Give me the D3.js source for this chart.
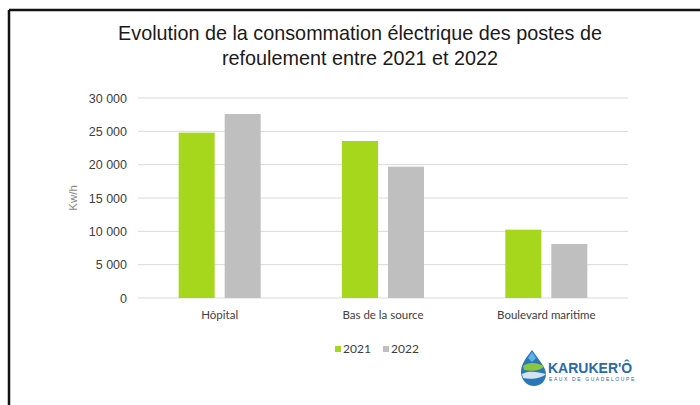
<!DOCTYPE html>
<html>
<head>
<meta charset="utf-8">
<script src="https://cdn.jsdelivr.net/npm/d3@7"></script>
<style>
  body { margin: 0; background: #fff; }
  svg { display: block; }
</style>
</head>
<body>
<svg width="700" height="405"></svg>
<script>
var categories = ["Hôpital", "Bas de la source", "Boulevard maritime"];
var years = ["2021", "2022"];
var values2021 = [24800, 23550, 10250];
var values2022 = [27600, 19700, 8100];
var yTicks = [0, 5000, 10000, 15000, 20000, 25000, 30000];
var titleLines = ["Evolution de la consommation électrique des postes de",
                  "refoulement entre 2021 et 2022"];
var colors = {"2021": "#a6d71c", "2022": "#bfbfbf"};

var svg = d3.select("svg");
var width = +svg.attr("width");
var height = +svg.attr("height");

// frame (only top and left edges show)
svg.append("line").attr("x1", 9).attr("y1", 10).attr("x2", width).attr("y2", 10)
   .attr("stroke", "#111").attr("stroke-width", 2.5);
svg.append("line").attr("x1", 9).attr("y1", 10).attr("x2", 9).attr("y2", height)
   .attr("stroke", "#111").attr("stroke-width", 2.5);

// title
svg.append("g").selectAll("text")
   .data(titleLines).enter().append("text")
   .attr("x", 360)
   .attr("y", function(d, i) { return 40 + i * 25; })
   .attr("text-anchor", "middle")
   .attr("font-family", "Liberation Sans, Arial, sans-serif")
   .attr("font-size", 19.8)
   .attr("fill", "#1a1a1a")
   .text(function(d) { return d; });

var x0 = d3.scaleBand().domain(categories).range([138, 628]);
var bw = x0.bandwidth();
var x1 = d3.scaleBand().domain(years)
   .range([bw / 2 - 41, bw / 2 + 41]).paddingInner(10 / 46);
var y = d3.scaleLinear().domain([0, 30000]).range([298, 98]);

var fmt = function(v) { return d3.format(",")(v).replace(/,/g, " "); };

// gridlines
svg.append("g").selectAll("line")
   .data(yTicks).enter().append("line")
   .attr("x1", 138).attr("x2", 628)
   .attr("y1", function(d) { return y(d); })
   .attr("y2", function(d) { return y(d); })
   .attr("stroke", "#d9d9d9").attr("stroke-width", 1);

// y axis
var yAxis = svg.append("g")
   .attr("transform", "translate(127,0)")
   .call(d3.axisLeft(y).tickValues(yTicks).tickFormat(fmt).tickSize(0).tickPadding(0));
yAxis.select(".domain").remove();
yAxis.selectAll("text")
   .attr("font-family", "Liberation Sans, Arial, sans-serif")
   .attr("font-size", 12.5)
   .attr("fill", "#404040");

svg.append("text")
   .attr("transform", "translate(77,198) rotate(-90)")
   .attr("text-anchor", "middle")
   .attr("font-family", "Liberation Sans, Arial, sans-serif")
   .attr("font-size", 11.5)
   .attr("fill", "#8a8a8a")
   .text("Kw/h");

// bars
var rows = categories.map(function(c, i) {
   return {cat: c, vals: [{year: "2021", v: values2021[i]}, {year: "2022", v: values2022[i]}]};
});
var groups = svg.append("g").selectAll("g")
   .data(rows).enter().append("g")
   .attr("transform", function(d) { return "translate(" + x0(d.cat) + ",0)"; });
groups.selectAll("rect")
   .data(function(d) { return d.vals; }).enter().append("rect")
   .attr("x", function(d) { return x1(d.year); })
   .attr("width", x1.bandwidth())
   .attr("y", function(d) { return y(d.v); })
   .attr("height", function(d) { return y(0) - y(d.v); })
   .attr("fill", function(d) { return colors[d.year]; });

// x axis labels
var xAxis = svg.append("g")
   .attr("transform", "translate(0,298)")
   .call(d3.axisBottom(x0).tickSize(0).tickPadding(13));
xAxis.select(".domain").remove();
xAxis.selectAll("text")
   .attr("font-family", "Lato, Carlito, sans-serif")
   .attr("font-size", 11.5)
   .attr("fill", "#404040");

// legend
var legend = svg.append("g").selectAll("g")
   .data(years).enter().append("g")
   .attr("transform", function(d, i) { return "translate(" + (335 + i * 48) + ",345)"; });
legend.append("rect").attr("width", 6).attr("height", 6).attr("y", 1)
   .attr("fill", function(d) { return colors[d]; });
legend.append("text").attr("x", 8).attr("y", 8)
   .attr("font-family", "Lato, Carlito, sans-serif")
   .attr("font-size", 12)
   .attr("fill", "#404040")
   .text(function(d) { return d; });

// logo
var logo = svg.append("g").attr("transform", "translate(520,350)");
logo.append("path")
   .attr("d", "M12,0 C6,8 1,14 1,22 C1,30 7,36 14,36 C21,36 26,31 26,24 C26,17 18,9 12,0 Z")
   .attr("fill", "#2a77b8");
logo.append("path")
   .attr("d", "M3,16 C8,12 16,12 24,16 C22,20 14,22 4,20 Z")
   .attr("fill", "#8cc63f");
logo.append("path")
   .attr("d", "M2,24 C9,20 18,22 26,24 C22,28 12,30 3,28 Z")
   .attr("fill", "#ffffff").attr("opacity", 0.8);
logo.append("path")
   .attr("d", "M12,2 L16,8 L12,12 L8,8 Z")
   .attr("fill", "#5bb4e5");
logo.append("text").attr("x", 28).attr("y", 23)
   .attr("font-family", "Liberation Sans, Arial, sans-serif")
   .attr("font-weight", "bold")
   .attr("font-size", 14)
   .attr("fill", "#2a6aa8")
   .text("KARUKER'Ô");
logo.append("text").attr("x", 29).attr("y", 31)
   .attr("font-family", "Liberation Sans, Arial, sans-serif")
   .attr("font-size", 5)
   .attr("letter-spacing", 1.6)
   .attr("fill", "#2a6aa8")
   .text("EAUX DE GUADELOUPE");
</script>
</body>
</html>
